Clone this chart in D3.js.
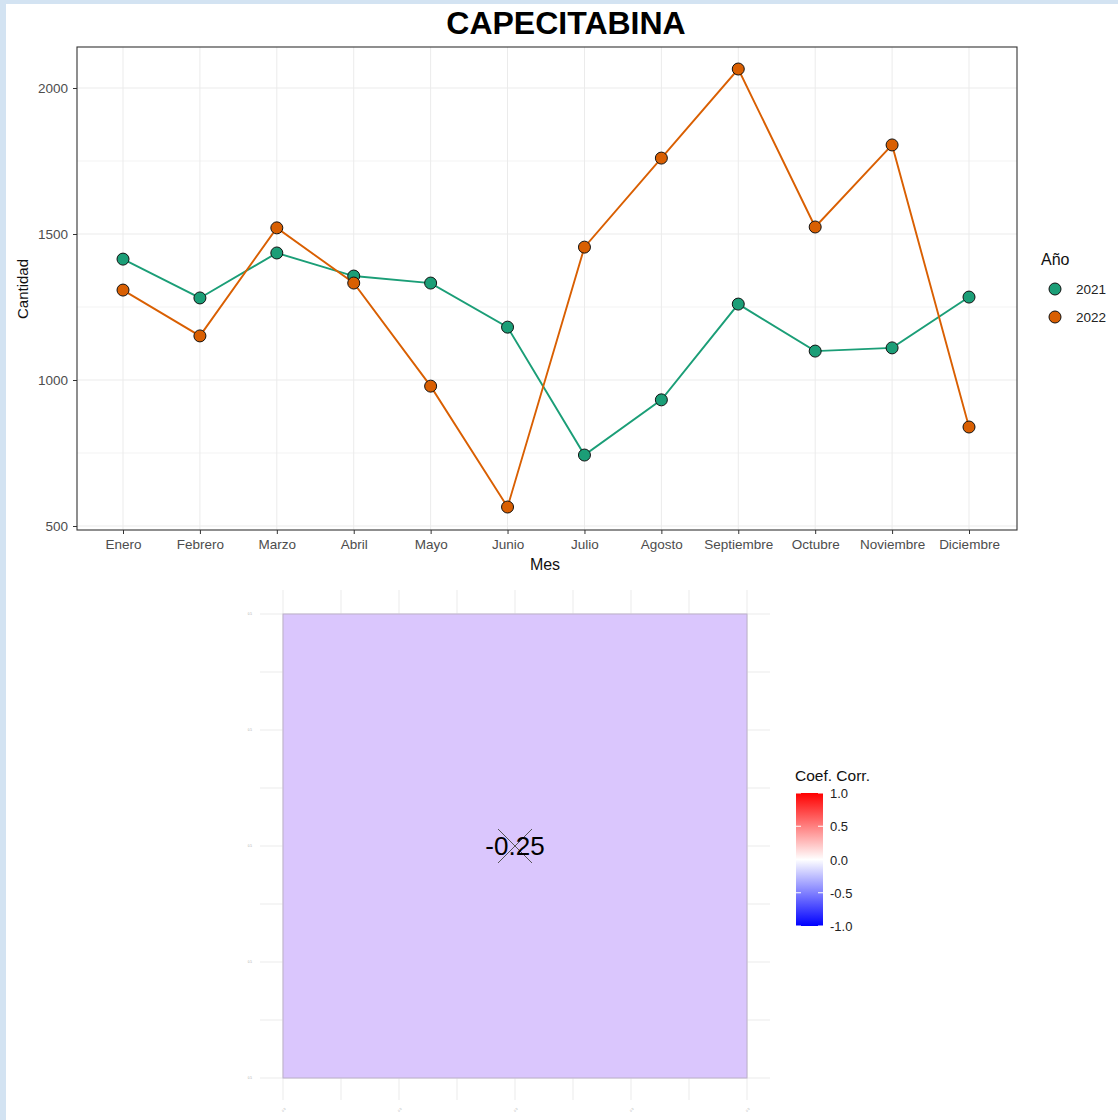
<!DOCTYPE html>
<html>
<head>
    <meta charset="utf-8">
    <script src="https://d3js.org/d3.v7.min.js"></script>
    <style type="text/css">
        body { margin: 0; background: #d3e3f2; }
        svg { display: block; font-family: Arial, "Liberation Sans", sans-serif; }
        .grid line { stroke: #ebebeb; stroke-width: 1; }
        .tick text { fill: #4d4d4d; font-size: 13.5px; }
    </style>
</head>
<body>
<div id="chart"></div>
<script>
    // data
    const meses = ["Enero", "Febrero", "Marzo", "Abril", "Mayo", "Junio", "Julio",
        "Agosto", "Septiembre", "Octubre", "Noviembre", "Diciembre"];
    const anios = ["2021", "2022"];
    const valores2021 = [1414, 1281, 1435, 1356, 1332, 1181, 743, 932, 1260, 1099, 1110, 1284];
    const valores2022 = [1308, 1151, 1521, 1332, 979, 565, 1455, 1760, 2065, 1524, 1805, 839];
    const colores = ["#1b9e77", "#d95f02"];
    const yTicks = [500, 1000, 1500, 2000];
    const corrValor = -0.25;
    const corrTicks = [-1, -0.5, 0, 0.5, 1];

    const W = 1118, H = 1120;
    const svg = d3.select("#chart").append("svg")
        .attr("width", W).attr("height", H);

    // light blue border behind the white page
    svg.append("rect").attr("width", W).attr("height", H).attr("fill", "#d3e3f2");
    svg.append("rect").attr("x", 6).attr("y", 4).attr("width", W - 6).attr("height", H - 4).attr("fill", "#fff");

    // ---------- line chart ----------
    const p = { left: 77, right: 1017, top: 47, bottom: 530 };
    const x = d3.scalePoint().domain(meses).range([123, 969]);
    const y = d3.scaleLinear().domain([500, 2000]).range([526, 88]);

    const g = svg.append("g");

    // minor grid
    const minor = [750, 1250, 1750];
    g.append("g").attr("class", "grid").selectAll("line").data(minor).join("line")
        .attr("x1", p.left).attr("x2", p.right)
        .attr("y1", d => y(d)).attr("y2", d => y(d))
        .style("stroke-width", 0.6);
    g.append("g").attr("class", "grid").selectAll("line").data(yTicks).join("line")
        .attr("x1", p.left).attr("x2", p.right)
        .attr("y1", d => y(d)).attr("y2", d => y(d));
    g.append("g").attr("class", "grid").selectAll("line").data(meses).join("line")
        .attr("y1", p.top).attr("y2", p.bottom)
        .attr("x1", d => x(d)).attr("x2", d => x(d));

    // axes
    g.append("g")
        .attr("transform", `translate(${p.left},0)`)
        .call(d3.axisLeft(y).tickValues(yTicks).tickFormat(d3.format("d")).tickSize(4).tickPadding(5))
        .call(a => a.select(".domain").remove())
        .call(a => a.selectAll(".tick line").attr("stroke", "#333"));
    g.append("g")
        .attr("transform", `translate(0,${p.bottom})`)
        .call(d3.axisBottom(x).tickSize(4).tickPadding(5))
        .call(a => a.select(".domain").remove())
        .call(a => a.selectAll(".tick line").attr("stroke", "#333"));

    g.append("rect")
        .attr("x", p.left).attr("y", p.top)
        .attr("width", p.right - p.left).attr("height", p.bottom - p.top)
        .attr("fill", "none").attr("stroke", "#333").attr("stroke-width", 1.1);

    // lines and points
    const series = [valores2021, valores2022];
    const line = d3.line().x((d, i) => x(meses[i])).y(d => y(d));
    series.forEach((vals, k) => {
        g.append("path").datum(vals)
            .attr("fill", "none").attr("stroke", colores[k]).attr("stroke-width", 1.9)
            .attr("d", line);
    });
    series.forEach((vals, k) => {
        g.append("g").selectAll("circle").data(vals).join("circle")
            .attr("cx", (d, i) => x(meses[i])).attr("cy", d => y(d))
            .attr("r", 6).attr("fill", colores[k])
            .attr("stroke", "#111").attr("stroke-width", 1);
    });

    // labels
    svg.append("text").attr("x", 566).attr("y", 34).attr("text-anchor", "middle")
        .style("font-size", "32px").style("font-weight", "bold").text("CAPECITABINA");
    svg.append("text").attr("x", 545).attr("y", 570).attr("text-anchor", "middle")
        .style("font-size", "16px").attr("fill", "#111").text("Mes");
    svg.append("text").attr("transform", "translate(28,289) rotate(-90)").attr("text-anchor", "middle")
        .style("font-size", "15px").attr("fill", "#111").text("Cantidad");

    // legend
    svg.append("text").attr("x", 1041).attr("y", 265).style("font-size", "16px").attr("fill", "#111").text("Año");
    anios.forEach((a, k) => {
        svg.append("circle").attr("cx", 1055).attr("cy", 289 + k * 28).attr("r", 6)
            .attr("fill", colores[k]).attr("stroke", "#111").attr("stroke-width", 1);
        svg.append("text").attr("x", 1076).attr("y", 294 + k * 28).style("font-size", "13.5px")
            .attr("fill", "#222").text(a);
    });

    // ---------- correlation tile ----------
    const h = { left: 260, right: 770, top: 590, bottom: 1100 };
    const hx = d3.scaleLinear().domain([0, 1]).range([283, 747]);
    const hy = d3.scaleLinear().domain([0, 1]).range([1078, 614]);
    const gridVals = d3.range(0, 1.0001, 0.125);
    const hg = svg.append("g");
    hg.append("g").attr("class", "grid").selectAll("line").data(gridVals).join("line")
        .attr("x1", h.left).attr("x2", h.right)
        .attr("y1", d => hy(d)).attr("y2", d => hy(d));
    hg.append("g").attr("class", "grid").selectAll("line").data(gridVals).join("line")
        .attr("y1", h.top).attr("y2", h.bottom)
        .attr("x1", d => hx(d)).attr("x2", d => hx(d));

    const color = d3.scaleLinear().domain([-1, 0, 1]).range(["#0000ff", "#ffffff", "#ff0000"]);
    hg.append("rect")
        .attr("x", hx(0)).attr("y", hy(1))
        .attr("width", hx(1) - hx(0)).attr("height", hy(0) - hy(1))
        .attr("fill", "#dac6fd").attr("stroke", "#bbb0c8").attr("stroke-width", 1);

    // tiny axis labels
    const major = [0, 0.25, 0.5, 0.75, 1];
    hg.selectAll(".yl").data(major).join("text")
        .attr("x", 252).attr("y", d => hy(d) + 1).attr("text-anchor", "end")
        .style("font-size", "3px").attr("fill", "#aaa").text("0.5");
    hg.selectAll(".xl").data(major).join("text")
        .attr("transform", d => `translate(${hx(d)},1112) rotate(-45)`)
        .style("font-size", "3px").attr("fill", "#aaa").text("0.5");

    // cross mark and value
    const cx = hx(0.5), cy = hy(0.5);
    hg.append("path")
        .attr("d", `M${cx - 17},${cy - 17}L${cx + 17},${cy + 17}M${cx + 17},${cy - 17}L${cx - 17},${cy + 17}`)
        .attr("stroke", "#555").attr("stroke-width", 1);
    hg.append("text").attr("x", cx).attr("y", cy + 9).attr("text-anchor", "middle")
        .style("font-size", "26px").attr("fill", "#000").text(corrValor.toFixed(2));

    // colour bar legend
    const grad = svg.append("defs").append("linearGradient").attr("id", "cbar")
        .attr("x1", 0).attr("x2", 0).attr("y1", 1).attr("y2", 0);
    d3.range(-1, 1.0001, 0.25).forEach(v => {
        grad.append("stop").attr("offset", (v + 1) / 2).attr("stop-color", color(v));
    });
    const cy2 = d3.scaleLinear().domain([-1, 1]).range([926, 793]);
    svg.append("text").attr("x", 795).attr("y", 781).style("font-size", "15.5px").attr("fill", "#111").text("Coef. Corr.");
    svg.append("rect").attr("x", 796).attr("y", cy2(1)).attr("width", 27).attr("height", cy2(-1) - cy2(1))
        .attr("fill", "url(#cbar)");
    svg.append("g").selectAll("line").data(corrTicks).join("g").each(function (d) {
        d3.select(this).append("line").attr("x1", 796).attr("x2", 801).attr("y1", cy2(d)).attr("y2", cy2(d))
            .attr("stroke", "#fff");
        d3.select(this).append("line").attr("x1", 818).attr("x2", 823).attr("y1", cy2(d)).attr("y2", cy2(d))
            .attr("stroke", "#fff");
    });
    svg.append("g").selectAll("text").data(corrTicks).join("text")
        .attr("x", 830).attr("y", d => cy2(d) + 5).style("font-size", "13px").attr("fill", "#222")
        .text(d => d.toFixed(1));
</script>
</body>
</html>
